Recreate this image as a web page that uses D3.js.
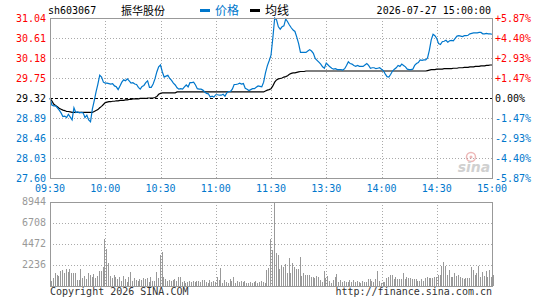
<!DOCTYPE html>
<html>
<head>
<meta charset="utf-8">
<script src="https://cdn.jsdelivr.net/npm/d3@7"></script>
<style>
  body { margin: 0; background: #fff; }
  text { font-family: "DejaVu Sans Mono", "Liberation Mono", monospace; font-size: 10px; }
</style>
</head>
<body>
<svg id="chart" width="545" height="300"></svg>
<script>
var stockCode = "sh603067";
var stockName = "振华股份";
var stamp = "2026-07-27 15:00:00";
var prevClose = 29.32;

var priceTicks = [31.04, 30.61, 30.18, 29.75, 29.32, 28.89, 28.46, 28.03, 27.60];
var pctTicks = ["+5.87%", "+4.40%", "+2.93%", "+1.47%", "0.00%", "-1.47%", "-2.93%", "-4.40%", "-5.87%"];
var timeTicks = [0, 30, 60, 90, 120, 150, 180, 210, 240];
var timeLabels = ["09:30", "10:00", "10:30", "11:00", "11:30", "13:30", "14:00", "14:30", "15:00"];
var volTicks = [8944, 6708, 4472, 2236];

// minute prices, 09:30..11:30 then 13:01..15:00
var price = [
  29.32,29.17,29.15,29.15,29.11,29.06,29.00,28.92,28.93,28.90,
  28.97,28.91,28.85,29.11,29.01,29.02,29.00,29.01,29.00,28.90,
  28.95,28.85,28.81,29.08,29.26,29.45,29.62,29.81,29.77,29.66,
  29.64,29.64,29.63,29.62,29.63,29.58,29.56,29.50,29.58,29.66,
  29.71,29.69,29.73,29.69,29.64,29.65,29.62,29.61,29.55,29.51,
  29.57,29.59,29.65,29.69,29.55,29.55,29.62,29.73,29.88,29.99,
  30.03,29.88,29.77,29.79,29.81,29.74,29.70,29.64,29.60,29.54,
  29.51,29.52,29.51,29.56,29.60,29.56,29.65,29.65,29.66,29.60,
  29.52,29.51,29.51,29.49,29.45,29.42,29.41,29.34,29.36,29.34,
  29.39,29.39,29.38,29.38,29.40,29.36,29.43,29.46,29.46,29.51,
  29.61,29.61,29.62,29.64,29.62,29.63,29.53,29.51,29.48,29.50,
  29.52,29.52,29.55,29.58,29.57,29.56,29.66,29.86,30.01,30.12,
  30.24,30.61,31.04,31.00,30.85,30.80,30.85,30.87,31.02,30.96,
  30.89,30.83,30.78,30.75,30.63,30.49,30.30,30.30,30.30,30.30,
  30.33,30.36,30.33,30.28,30.17,30.13,30.09,30.05,29.99,29.96,
  30.07,30.03,29.99,29.96,29.94,29.95,29.93,29.93,29.93,29.92,
  29.95,30.02,30.10,30.06,30.05,30.02,30.00,30.02,30.00,30.00,
  30.00,30.03,30.06,30.02,29.96,29.97,29.97,29.95,29.96,29.97,
  29.94,29.91,29.84,29.78,29.77,29.83,29.90,29.94,29.97,30.02,
  30.00,30.05,30.02,29.99,29.94,29.93,29.93,29.94,30.02,30.06,
  30.08,30.14,30.13,30.14,30.14,30.18,30.35,30.57,30.69,30.66,
  30.60,30.49,30.47,30.53,30.54,30.56,30.52,30.55,30.56,30.55,
  30.60,30.65,30.66,30.65,30.64,30.66,30.66,30.67,30.70,30.71,
  30.72,30.72,30.72,30.73,30.73,30.70,30.70,30.71,30.70,30.70,
  30.69
];

var avgPrice = [
  29.31,29.26,29.19,29.16,29.13,29.10,29.08,29.06,29.05,29.03,
  29.03,29.02,29.01,29.01,29.01,29.01,29.01,29.01,29.01,29.01,
  29.01,29.01,29.01,29.01,29.03,29.05,29.07,29.11,29.14,29.18,
  29.22,29.23,29.24,29.24,29.25,29.25,29.26,29.26,29.27,29.27,
  29.27,29.28,29.28,29.29,29.29,29.30,29.30,29.30,29.30,29.31,
  29.31,29.31,29.31,29.32,29.32,29.32,29.32,29.33,29.35,29.40,
  29.42,29.43,29.43,29.43,29.43,29.43,29.43,29.43,29.43,29.45,
  29.45,29.45,29.45,29.45,29.45,29.45,29.45,29.45,29.45,29.45,
  29.45,29.45,29.45,29.45,29.45,29.45,29.45,29.45,29.45,29.45,
  29.45,29.45,29.45,29.45,29.45,29.45,29.45,29.45,29.45,29.45,
  29.45,29.45,29.45,29.45,29.45,29.45,29.45,29.45,29.45,29.45,
  29.45,29.45,29.45,29.45,29.45,29.45,29.45,29.47,29.49,29.50,
  29.52,29.58,29.66,29.71,29.73,29.74,29.75,29.77,29.78,29.80,
  29.83,29.85,29.86,29.86,29.87,29.88,29.89,29.89,29.89,29.90,
  29.90,29.90,29.90,29.90,29.90,29.90,29.90,29.90,29.90,29.90,
  29.90,29.90,29.90,29.90,29.90,29.90,29.90,29.90,29.90,29.90,
  29.90,29.90,29.90,29.90,29.90,29.90,29.90,29.90,29.90,29.90,
  29.90,29.90,29.90,29.90,29.90,29.90,29.90,29.90,29.90,29.90,
  29.90,29.90,29.90,29.90,29.90,29.90,29.90,29.90,29.90,29.90,
  29.90,29.90,29.90,29.90,29.90,29.90,29.90,29.90,29.90,29.90,
  29.90,29.90,29.90,29.90,29.90,29.91,29.92,29.93,29.93,29.93,
  29.94,29.94,29.94,29.94,29.95,29.95,29.95,29.95,29.95,29.96,
  29.96,29.96,29.97,29.97,29.97,29.98,29.98,29.98,29.99,29.99,
  29.99,30.00,30.00,30.00,30.01,30.01,30.01,30.02,30.02,30.03,
  30.03
];

var volume = [
  560,820,1350,1170,1060,1600,1700,1350,1780,1520,
  1780,1350,1420,1350,640,640,1780,820,1060,710,
  1350,1170,930,1280,820,1060,1600,1600,1990,4970,
  3910,2420,1060,820,1170,990,710,990,560,1060,
  710,460,930,1520,560,820,640,560,710,640,
  820,710,820,460,990,560,560,1520,820,3300,
  3650,930,710,560,640,560,640,710,560,930,
  930,460,560,350,460,560,460,560,460,560,
  560,460,640,640,460,350,640,460,560,460,
  930,640,1890,350,640,460,350,710,560,930,
  350,560,460,560,460,560,350,350,460,350,
  460,560,350,460,560,460,350,1700,1890,4970,
  3830,8944,3550,3300,1810,2240,1990,2340,1350,3010,
  1420,2480,2060,1780,1780,3120,1060,1420,1170,1170,
  1170,930,930,820,1060,930,640,460,1630,820,
  1060,560,350,640,930,1280,460,640,460,560,
  460,460,640,460,640,460,560,460,350,560,
  460,460,710,710,560,460,710,1630,560,290,
  460,460,820,930,1170,1170,710,930,710,710,
  710,1420,710,930,820,820,710,710,710,560,
  560,710,560,820,930,820,820,820,990,930,
  1170,1170,2130,2590,2130,1170,1700,990,990,1420,
  1060,1170,930,820,710,820,820,820,2060,1700,
  1170,1350,2130,930,1520,1060,1630,930,1700,930,
  1170
];

var RED = "#ff0000", BLUE = "#0077cc", GRID = "#aaaaaa", FRAME = "#999999";

var svg = d3.select("#chart");

var x = d3.scaleLinear().domain([0, 240]).range([50, 492]);
var y = d3.scaleLinear().domain([27.60, 31.04]).range([178, 18]);
var yv = d3.scaleLinear().domain([0, 8944]).range([286, 202]);

function tickColor(v) {
  if (v > prevClose) return RED;
  if (v < prevClose) return BLUE;
  return "#000";
}

// ---- price panel grid
var grid = svg.append("g").attr("shape-rendering", "crispEdges");

grid.selectAll(".hgrid")
  .data(priceTicks.filter(function (d) { return d !== prevClose && d !== 31.04 && d !== 27.60; }))
  .enter().append("line")
  .attr("x1", 50).attr("x2", 492)
  .attr("y1", function (d) { return Math.round(y(d)) + 0.5; })
  .attr("y2", function (d) { return Math.round(y(d)) + 0.5; })
  .attr("stroke", GRID).attr("stroke-dasharray", "1,2");

grid.selectAll(".vgrid")
  .data(timeTicks.slice(1, -1))
  .enter().append("line")
  .attr("x1", function (d) { return Math.round(x(d)) + 0.5; })
  .attr("x2", function (d) { return Math.round(x(d)) + 0.5; })
  .attr("y1", 18).attr("y2", 178)
  .attr("stroke", GRID).attr("stroke-dasharray", "1,2");

// ---- volume panel grid
grid.selectAll(".vhgrid")
  .data(volTicks.slice(1))
  .enter().append("line")
  .attr("x1", 50).attr("x2", 492)
  .attr("y1", function (d) { return Math.round(yv(d)) + 0.5; })
  .attr("y2", function (d) { return Math.round(yv(d)) + 0.5; })
  .attr("stroke", GRID).attr("stroke-dasharray", "1,2");

grid.selectAll(".vvgrid")
  .data(timeTicks.slice(1, -1))
  .enter().append("line")
  .attr("x1", function (d) { return Math.round(x(d)) + 0.5; })
  .attr("x2", function (d) { return Math.round(x(d)) + 0.5; })
  .attr("y1", 202).attr("y2", 286)
  .attr("stroke", GRID).attr("stroke-dasharray", "1,2");

// watermark
var wm = svg.append("g").attr("opacity", 0.55);
wm.append("circle").attr("cx", 471).attr("cy", 157).attr("r", 4.5)
  .attr("fill", "none").attr("stroke", "#e08080").attr("stroke-width", 1.5);
wm.append("circle").attr("cx", 471).attr("cy", 157).attr("r", 1.5).attr("fill", "#e08080");
wm.append("text").attr("x", 474).attr("y", 172).attr("text-anchor", "middle")
  .style("font-family", "DejaVu Sans").style("font-size", "14px")
  .style("font-weight", "bold").style("font-style", "italic")
  .attr("fill", "#aaaaaa").text("sina");

// prev close line
svg.append("line")
  .attr("x1", 50).attr("x2", 492)
  .attr("y1", Math.round(y(prevClose)) + 0.5).attr("y2", Math.round(y(prevClose)) + 0.5)
  .attr("stroke", "#000").attr("stroke-dasharray", "3,2")
  .attr("shape-rendering", "crispEdges");

// volume bars
svg.append("g").attr("shape-rendering", "crispEdges")
  .selectAll("rect").data(volume).enter().append("rect")
  .attr("x", function (d, i) { return Math.round(x(i)) + 1; })
  .attr("width", 1)
  .attr("y", function (d) { return yv(d); })
  .attr("height", function (d) { return 286 - yv(d); })
  .attr("fill", "#999999");

// lines
var line = d3.line()
  .x(function (d, i) { return x(i); })
  .y(function (d) { return y(d); });

svg.append("path").datum(avgPrice)
  .attr("d", line).attr("fill", "none")
  .attr("stroke", "#000").attr("stroke-width", 1.2);

svg.append("path").datum(price)
  .attr("d", line).attr("fill", "none")
  .attr("stroke", BLUE).attr("stroke-width", 1.2);

// frames
svg.append("rect").attr("x", 50.5).attr("y", 18.5).attr("width", 442).attr("height", 160)
  .attr("fill", "none").attr("stroke", FRAME).attr("shape-rendering", "crispEdges");
svg.append("rect").attr("x", 50.5).attr("y", 202.5).attr("width", 442).attr("height", 84)
  .attr("fill", "none").attr("stroke", FRAME).attr("shape-rendering", "crispEdges");

// left price labels
svg.selectAll(".plab").data(priceTicks).enter().append("text")
  .attr("x", 46).attr("y", function (d) { return y(d) + 3.5; })
  .attr("text-anchor", "end")
  .attr("fill", tickColor)
  .text(function (d) { return d.toFixed(2); });

// right percent labels
svg.selectAll(".rlab").data(pctTicks).enter().append("text")
  .attr("x", 495).attr("y", function (d, i) { return y(priceTicks[i]) + 3.5; })
  .attr("fill", function (d, i) { return tickColor(priceTicks[i]); })
  .text(function (d) { return d; });

// time labels
svg.selectAll(".tlab").data(timeTicks).enter().append("text")
  .attr("x", function (d) { return x(d); }).attr("y", 192)
  .attr("text-anchor", "middle").attr("fill", BLUE)
  .text(function (d, i) { return timeLabels[i]; });

// volume labels
svg.selectAll(".vlab").data(volTicks).enter().append("text")
  .attr("x", 46).attr("y", function (d) { return yv(d) + 3; })
  .attr("text-anchor", "end").attr("fill", "#999999")
  .text(function (d) { return d; });

// header
svg.append("text").attr("x", 48).attr("y", 14).attr("fill", "#000").text(stockCode);
svg.append("text").attr("x", 121).attr("y", 15).attr("fill", "#000")
  .style("font-family", "'Noto Sans CJK SC', sans-serif").style("font-size", "11px")
  .text(stockName);
svg.append("rect").attr("x", 200).attr("y", 9).attr("width", 10).attr("height", 3).attr("fill", BLUE);
svg.append("text").attr("x", 215).attr("y", 15).attr("fill", BLUE)
  .style("font-family", "'Noto Sans CJK SC', sans-serif").style("font-size", "12px")
  .text("价格");
svg.append("rect").attr("x", 250).attr("y", 9).attr("width", 10).attr("height", 3).attr("fill", "#000");
svg.append("text").attr("x", 265).attr("y", 15).attr("fill", "#000")
  .style("font-family", "'Noto Sans CJK SC', sans-serif").style("font-size", "12px")
  .text("均线");
svg.append("text").attr("x", 491).attr("y", 14).attr("text-anchor", "end")
  .attr("fill", "#000").text(stamp);

// footer
svg.append("text").attr("x", 50).attr("y", 295).attr("fill", "#333333")
  .text("Copyright 2026 SINA.COM");
svg.append("text").attr("x", 492).attr("y", 295).attr("text-anchor", "end")
  .attr("fill", "#333333").text("http://finance.sina.com.cn");
</script>
</body>
</html>
